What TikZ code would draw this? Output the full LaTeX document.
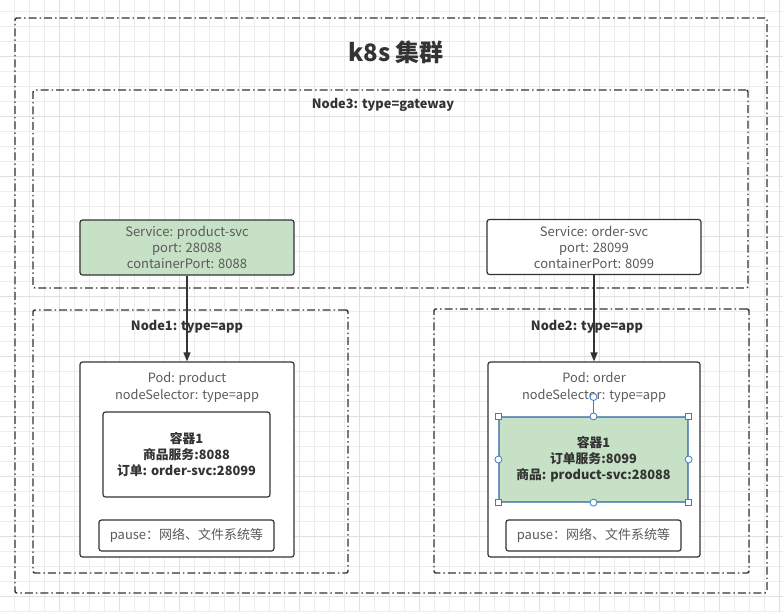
\documentclass[tikz,border=0pt]{standalone}
\usepackage{fontspec}
\setmainfont{Noto Sans CJK SC}
\usetikzlibrary{arrows.meta}
\definecolor{gridfine}{RGB}{236,236,236}
\definecolor{gridmajor}{RGB}{224,224,224}
\definecolor{ink}{RGB}{51,51,51}
\definecolor{soft}{RGB}{90,90,90}
\definecolor{leaf}{RGB}{198,225,198}
\definecolor{pick}{RGB}{58,124,205}

\begin{document}
\begin{tikzpicture}
  [x=1pt, y=-1pt,
   region/.style={draw=ink, line width=1.4pt, rounded corners=2pt,
     dash pattern=on 8pt off 3pt on 1.5pt off 3pt},
   svc/.style={draw=ink, line width=1.2pt, rounded corners=2.5pt, fill=white,
     text=soft, align=center, font=\fontsize{13}{16}\selectfont,
     minimum width=214pt, minimum height=55pt, inner sep=0pt},
   pod/.style={draw=ink, line width=1.2pt, rounded corners=2.5pt, fill=white,
     minimum height=195pt, inner sep=0pt},
   ctr/.style={draw=ink, line width=1.2pt, rounded corners=2.5pt, fill=white,
     text=ink, align=center, font=\bfseries\fontsize{12.8}{16}\selectfont,
     minimum height=85pt, inner sep=0pt},
   pausebox/.style={draw=ink, line width=1.2pt, rounded corners=2.5pt, fill=white,
     text=soft, font=\fontsize{13}{16}\selectfont,
     minimum width=175pt, minimum height=31pt, inner sep=0pt},
   tag/.style={text=ink, font=\bfseries\fontsize{12.8}{15}\selectfont},
   podtext/.style={text=soft, align=center, font=\fontsize{12.8}{17}\selectfont},
   arr/.style={draw=ink, line width=1.3pt, -{Triangle[length=9pt,width=7pt]}},
   hsq/.style={draw=pick, fill=white, line width=0.8pt, minimum size=6pt,
     inner sep=0pt},
   hdot/.style={draw=pick, fill=white, line width=0.8pt, circle,
     minimum size=7pt, inner sep=0pt}]

  \useasboundingbox (0,0) rectangle (783,611);
  \fill[white] (0,0) rectangle (783,611);
  % grid paper
  \foreach \i in {0,...,52} {
    \draw[gridfine, line width=0.8pt] (14.3+15*\i,0) -- (14.3+15*\i,611);
  }
  \foreach \i in {0,...,40} {
    \draw[gridfine, line width=0.8pt] (0,11.7+15*\i) -- (783,11.7+15*\i);
  }
  \foreach \i in {0,...,13} {
    \draw[gridmajor, line width=1pt] (-0.7+60*\i,0) -- (-0.7+60*\i,611);
  }
  \foreach \i in {0,...,10} {
    \draw[gridmajor, line width=1pt] (0,56.7+60*\i) -- (783,56.7+60*\i);
  }

  % cluster and machines
  \node[region, minimum width=752pt, minimum height=575pt] (k8s) at (391,305.5) {};
  \node[font=\bfseries\fontsize{24}{28}\selectfont, text=ink] (title) at (396,52) {k8s 集群};
  \node[region, minimum width=715pt, minimum height=198pt] (n3) at (390.5,189) {};
  \node[tag] (n3t) at (383,105) {Node3: type=gateway};
  \node[region, minimum width=315pt, minimum height=263pt] (n1) at (190.5,441.5) {};
  \node[tag] (n1t) at (187,327) {Node1: type=app};
  \node[region, minimum width=315pt, minimum height=264pt] (n2) at (591.5,441) {};
  \node[tag] (n2t) at (587,327) {Node2: type=app};

  % services
  \node[svc, fill=leaf] (ps) at (187,247.5)
    {Service: product-svc\\port: 28088\\containerPort: 8088};
  \node[svc] (os) at (594,247)
    {Service: order-svc\\port: 28099\\containerPort: 8099};

  % pods
  \node[pod, minimum width=214pt] (pp) at (187,459.5) {};
  \node[podtext, anchor=north] (ppt) at ([yshift=-7pt]pp.north)
    {Pod: product\\nodeSelector: type=app};
  \node[ctr, minimum width=167pt] (pc) at (186.5,454.5)
    {容器1\\商品服务:8088\\订单: order-svc:28099};
  \node[pausebox] (pq) at (186.5,535.5) {pause：网络、文件系统等};

  \node[pod, minimum width=212pt] (op) at (594,459.5) {};
  \node[podtext, anchor=north] (opt) at ([yshift=-7pt]op.north)
    {Pod: order\\nodeSelector: type=app};
  \node[ctr, fill=leaf, draw=pick!80!black, minimum width=189pt] (oc) at (593.5,459.5)
    {容器1\\订单服务:8099\\商品: product-svc:28088};
  \node[pausebox] (oq) at (593.5,535.5) {pause：网络、文件系统等};

  % selection handles
  \node[hdot] (rot) at (593.5,397) {};
  \draw[pick, line width=0.8pt] (rot) -- (oc.north);
  \foreach \a/\n in {north west/1, north east/2, south west/3, south east/4}
    \node[hsq] (hs\n) at (oc.\a) {};
  \foreach \a/\n in {north/1, south/2, west/3, east/4}
    \node[hdot] (hd\n) at (oc.\a) {};

  % links
  \draw[arr] (ps.south) -- (pp.north);
  \draw[arr] (os.south) -- (op.north);
\end{tikzpicture}
\end{document}
